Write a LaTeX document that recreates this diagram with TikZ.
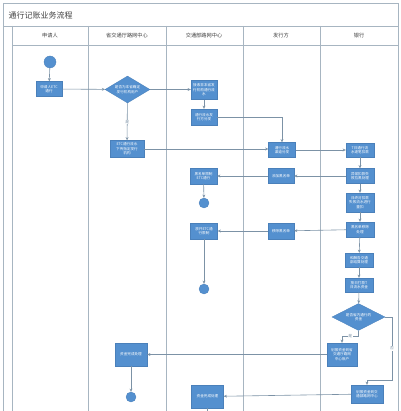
\documentclass[tikz,border=0pt]{standalone}
\usepackage{fontspec}
\newfontfamily\cjk{Noto Sans CJK SC}
\usetikzlibrary{arrows.meta,shapes.geometric}
\definecolor{boxblue}{HTML}{5490CF}
\definecolor{boxedge}{HTML}{4A80BA}
\definecolor{linec}{HTML}{7C92A6}
\definecolor{lanec}{HTML}{A7B5C1}
\definecolor{textc}{HTML}{404040}
\begin{document}
\begin{tikzpicture}[x=1pt,y=-1pt,
  box/.style={draw=boxedge, line width=0.3pt, fill=boxblue, text=white, font=\cjk\fontsize{3.6}{4.5}\selectfont, align=center, inner sep=0.3pt},
  dia/.style={diamond, draw=boxedge, line width=0.3pt, fill=boxblue, text=white, font=\cjk\fontsize{3.6}{4.5}\selectfont, align=center, inner sep=0pt, aspect=1.7},
  dot/.style={circle, fill=boxblue, draw=boxedge, line width=0.3pt, inner sep=0pt, minimum size=#1},
  flow/.style={draw=linec, line width=0.6pt, -{Stealth[length=3.2pt,width=2.8pt]}},
  plain/.style={draw=linec, line width=0.6pt},
  lane/.style={draw=lanec, line width=0.8pt},
  lbl/.style={font=\cjk\fontsize{3.8}{4}\selectfont, text=linec, fill=white, inner sep=0.4pt},
  hdr/.style={font=\cjk\fontsize{5.2}{6}\selectfont, text=textc}]
\useasboundingbox (0,0) rectangle (400,411);
\fill[white] (0,0) rectangle (400,411);
% frame and lanes
\draw[lane] (3,411) -- (3,3) -- (398,3) -- (398,411);
\draw[lane] (3,26) -- (398,26);
\draw[lane] (12,45) -- (398,45);
\draw[lane] (12,26) -- (12,411);
\foreach \x in {88,166,243,320} \draw[lane] (\x,26) -- (\x,411);
\node[anchor=west, font=\cjk\fontsize{8}{9}\selectfont, text=textc] (title) at (5,15) {通行记账业务流程};
\node[hdr] (h1) at (50,36) {申请人};
\node[hdr] (h2) at (127,36) {省交通厅路网中心};
\node[hdr] (h3) at (204,36) {交通部路网中心};
\node[hdr] (h4) at (281,36) {发行方};
\node[hdr] (h5) at (359,36) {银行};
% nodes
\node[dot=12pt] (s1) at (50,62) {};
\node[box, minimum width=26pt, minimum height=15pt] (a1) at (49,89) {申请人ETC\\通行};
\node[dia, minimum width=45pt, minimum height=27pt] (d1) at (127.5,89.5) {是否为本省确定\\发行机构用户};
\node[box, minimum width=26pt, minimum height=19pt] (c1) at (204,90) {接收非本省发\\行机构通行流\\水};
\node[box, minimum width=26pt, minimum height=16pt] (c2) at (204,117) {通行流水发\\行方分发};
\node[box, minimum width=27pt, minimum height=15pt] (f1) at (282,150) {通行流水\\渠道分发};
\node[box, minimum width=34pt, minimum height=17pt] (p1) at (127,149) {ETC通行流水\\下传指定发行\\机构};
\node[box, minimum width=28pt, minimum height=14pt] (b1) at (360,150) {T日通行流\\水逐笔扣款};
\node[box, minimum width=28pt, minimum height=15pt] (b2) at (360,176) {异常扣款失\\败拉黑处理};
\node[box, minimum width=28pt, minimum height=19pt] (b3) at (360,202.5) {日终对扣款\\失败流水进行\\重扣};
\node[box, minimum width=28pt, minimum height=15pt] (b4) at (360,229.5) {黑名单移除\\处理};
\node[box, minimum width=28pt, minimum height=14pt] (b5) at (359,260) {和解各交通\\部结算处理};
\node[box, minimum width=28pt, minimum height=14pt] (b6) at (359,285) {按日打款T\\日流水资金};
\node[dia, minimum width=53pt, minimum height=27pt] (d2) at (358.5,317) {是否省内通行的\\资金};
\node[box, minimum width=30pt, minimum height=23pt] (b7) at (342,354.5) {划拨资金到省\\交通厅路网\\中心账户};
\node[box, minimum width=32pt, minimum height=18pt] (b8) at (367,394) {划拨资金到交\\通部路网中心};
\node[box, minimum width=26pt, minimum height=15pt] (f2) at (281,176) {添加黑名单};
\node[box, minimum width=27pt, minimum height=16pt] (c3) at (203.5,176) {黑名单限制\\ETC通行};
\node[dot=10pt] (e1) at (204,203) {};
\node[box, minimum width=26pt, minimum height=16pt] (f3) at (281,231) {移除黑名单};
\node[box, minimum width=27pt, minimum height=16pt] (c4) at (204,231) {放开ETC通\\行限制};
\node[dot=10pt] (e2) at (204,289) {};
\node[box, minimum width=32pt, minimum height=23pt] (p2) at (131,354.5) {资金完成处理};
\node[dot=10pt] (e3) at (131,397) {};
\node[box, minimum width=32pt, minimum height=23pt] (c5) at (207.5,396.5) {资金完成处理};
\coordinate (c5end) at (207.5,411);
\coordinate (bendyes) at (358.5,336);
\coordinate (bendno) at (392,380);
% connectors
\draw[flow] (s1) -- (a1);
\draw[flow] (a1) -- (d1);
\draw[flow] (d1.east) -- (c1.west |- d1.east);
\draw[flow] (c1) -- (c2);
\draw[flow] (c2.east) -| (f1.north);
\draw[flow] (d1) -- node[lbl, pos=0.5] {是} (p1);
\draw[flow] (p1.east) -- (f1.west |- p1.east);
\draw[flow] (f1) -- (b1);
\draw[flow] (b1) -- (b2);
\draw[flow] (b2) -- (b3);
\draw[flow] (b3) -- (b4);
\draw[flow] (b4) -- (b5);
\draw[flow] (b5) -- (b6);
\draw[flow] (b6) -- (d2);
\draw[flow] (b2) -- (f2);
\draw[flow] (f2) -- (c3);
\draw[flow] (c3) -- (e1);
\draw[flow] (b4) -- (f3);
\draw[flow] (f3) -- (c4);
\draw[flow] (c4) -- (e2);
\draw[flow] (d2.south) -- (bendyes) -| node[lbl, pos=0.25] {是} (b7.north);
\draw[flow] (d2.east) -| node[lbl, pos=0.75] {否} (bendno) -| (b8.north);
\draw[flow] (b7) -- (p2);
\draw[flow] (p2) -- (e3);
\draw[flow] (b8) -- (c5);
\draw[plain] (c5) -- (c5end);
\end{tikzpicture}
\end{document}
